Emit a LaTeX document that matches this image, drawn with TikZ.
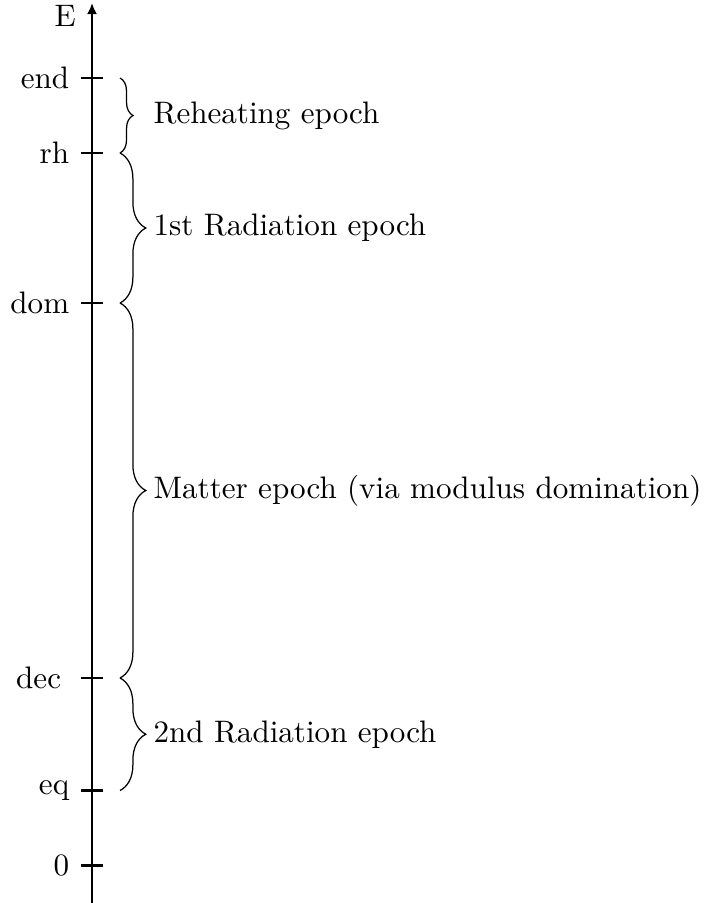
\documentclass[tikz,border=0pt]{standalone}
\usepackage{tikz}
\usetikzlibrary{decorations.pathreplacing}
\usetikzlibrary{arrows.meta}

\begin{document}
\begin{tikzpicture}[scale=0.848,epoch/.style={decorate,decoration={brace,amplitude=8.3pt}}]
\useasboundingbox (-1.227,0) rectangle (8.173,12.04);

% y-axis
\draw[thick,-{Latex[length=3.6pt,width=3.3pt]}] (0,0) -- (0,12);
\node[left] (elabel) at (-0.07,11.83) {E};

% ticks
\draw[thick] (0.15,11) -- (-0.15,11) node [left] (lend) {end};
\draw[thick] (0.15,10) -- (-0.15,10) node [left] (lrh) {rh};
\draw[thick] (0.15,8) -- (-0.15,8) node [left] (ldom) {dom};
\draw[thick] (0.15,3) -- (-0.15,3) node [left,xshift=-2.6pt] (ldec) {dec};
\draw[thick] (0.15,1.5) -- (-0.15,1.5) node [left] (leq) {eq};
\draw[thick] (0.15,0.5) -- (-0.15,0.5) node [left] (lzero) {0};

% brace ends
\coordinate (cend) at (0.373,11);
\coordinate (crh) at (0.373,10);
\coordinate (cdom) at (0.373,8);
\coordinate (cdec) at (0.373,3);
\coordinate (ceq) at (0.373,1.5);

% epochs
\draw [epoch,decoration={amplitude=4.2pt}] (cend) -- (crh)
   node [midway,right=7.3pt] (reheat) {Reheating epoch};
\draw [epoch] (crh) -- (cdom)
   node [midway,right=7.3pt] (rad1) {1st Radiation epoch};
\draw [epoch] (cdom) -- (cdec)
   node [midway,right=7.3pt] (matter) {Matter epoch (via modulus domination)};
\draw [epoch] (cdec) -- (ceq)
   node [midway,right=7.3pt] (rad2) {2nd Radiation epoch};

\end{tikzpicture}
\end{document}
